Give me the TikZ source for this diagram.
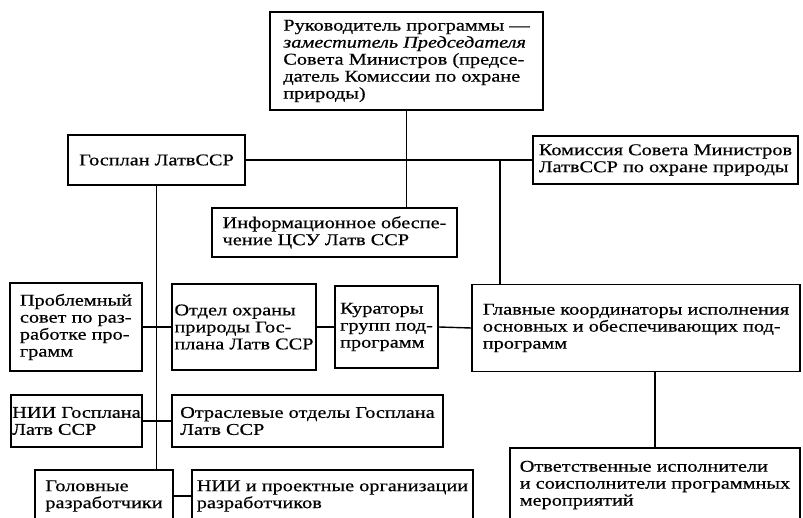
\documentclass[tikz,border=0pt]{standalone}
\usepackage{fontspec}
\setmainfont[FakeStretch=1.23,FakeBold=0.5]{Liberation Serif}
\usepackage{tikz}
\usetikzlibrary{positioning}

\begin{document}
\begin{tikzpicture}[
    x=1pt, y=-1pt,
    every node/.style={font=\fontsize{16.5}{17}\selectfont},
    blok/.style={draw, line width=1.8pt, align=left, inner sep=0pt},
    svyaz/.style={line width=1.4pt}
]
\useasboundingbox (0,0) rectangle (803,518);

\node[blok, minimum width=273pt, minimum height=98pt] (ruk) at (406.5,61)
    {Руководитель программы ---\\ \textit{заместитель Председателя}\\ Совета Министров (предсе-\\ датель Комиссии по охране\\ природы)};
\node[blok, minimum width=177pt, minimum height=50pt] (gosplan) at (156.5,160)
    {Госплан ЛатвССР};
\node[blok, minimum width=265pt, minimum height=48pt] (komis) at (665.5,160)
    {Комиссия Совета Министров\\ ЛатвССР по охране природы};
\node[blok, minimum width=245pt, minimum height=49pt] (inform) at (334.5,232.5)
    {Информационное обеспе-\\ чение ЦСУ Латв ССР};
\node[blok, minimum width=132pt, minimum height=88pt] (problem) at (76,327)
    {Проблемный\\ совет по раз-\\ работке про-\\ грамм};
\node[blok, minimum width=144pt, minimum height=86pt] (otdel) at (244,327)
    {Отдел охраны\\ природы Гос-\\ плана Латв ССР};
\node[blok, minimum width=103pt, minimum height=82pt] (kurat) at (386.5,327)
    {Кураторы\\ групп под-\\ программ};
\node[blok, minimum width=328pt, minimum height=87pt] (glavn) at (636,328)
    {Главные координаторы исполнения\\ основных и обеспечивающих под-\\ программ};
\node[blok, minimum width=131pt, minimum height=52pt] (nii) at (76.5,421)
    {НИИ Госплана\\ Латв ССР};
\node[blok, minimum width=271pt, minimum height=52pt] (otrasl) at (307.5,421)
    {Отраслевые отделы Госплана\\ Латв ССР};
\node[blok, minimum width=138pt, minimum height=52pt] (golov) at (104,496)
    {Головные\\ разработчики};
\node[blok, minimum width=281pt, minimum height=52pt] (niipr) at (332.5,496)
    {НИИ и проектные организации\\ разработчиков};
\node[blok, minimum width=290pt, minimum height=74pt] (otvet) at (655,485)
    {Ответственные исполнители\\ и соисполнители программных\\ мероприятий};

\coordinate (uzel) at (500,160);

\draw[svyaz] (ruk.south) -- (ruk.south |- inform.north);
\draw[svyaz] (gosplan.east) -- (komis.west);
\draw[svyaz] (uzel) -- (uzel |- glavn.north);
\draw[svyaz] (gosplan.south) -- (gosplan.south |- golov.north);
\draw[svyaz] (problem.east) -- (otdel.west);
\draw[svyaz] (otdel.east) -- (kurat.west);
\draw[svyaz] (kurat.east) -- (glavn.west);
\draw[svyaz] (nii.east) -- (otrasl.west);
\draw[svyaz] (golov.east) -- (niipr.west);
\draw[svyaz] (otvet.north) -- (otvet.north |- glavn.south);
\end{tikzpicture}
\end{document}
